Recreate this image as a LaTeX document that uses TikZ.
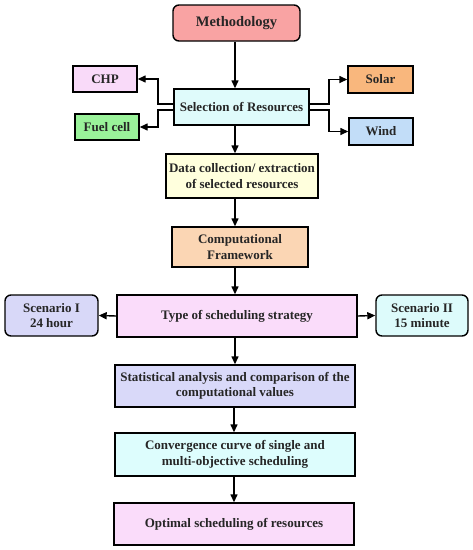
\documentclass[tikz,border=0pt]{standalone}
\usepackage{fontspec}
\setmainfont{Liberation Serif}
\usetikzlibrary{arrows.meta}
\definecolor{cmeth}{HTML}{F9A3A3}
\definecolor{cchp}{HTML}{F9DAF9}
\definecolor{cfuel}{HTML}{9AF29A}
\definecolor{csolar}{HTML}{F9B77D}
\definecolor{cwind}{HTML}{C2DDF8}
\definecolor{csel}{HTML}{DFFBFB}
\definecolor{cdata}{HTML}{FFFFDD}
\definecolor{ccomp}{HTML}{FBD6B4}
\definecolor{ctype}{HTML}{FADCFA}
\definecolor{cscI}{HTML}{D8D8F8}
\definecolor{cscII}{HTML}{DDFBFB}
\definecolor{cstat}{HTML}{D9D9F9}
\definecolor{cconv}{HTML}{DDFDFD}
\definecolor{copt}{HTML}{FADCFA}
\tikzset{
  box/.style={draw=black, line width=1.4pt, align=center, inner sep=0pt,
    font=\fontsize{13}{15.5}\selectfont\bfseries, text=black!85},
  rbox/.style={box, rounded corners=6pt},
  arr/.style={line width=1.4pt, -{Triangle[length=8pt,width=7pt]}},
  ln/.style={line width=1.4pt}
}
\begin{document}
\begin{tikzpicture}[x=1pt,y=-1pt]
\useasboundingbox (0,0) rectangle (473,550);
\node[rbox, fill=cmeth, minimum width=127pt, minimum height=36pt, font=\fontsize{14.5}{17}\selectfont\bfseries] (meth) at (236.5,23) {Methodology};
\node[box, fill=csel, minimum width=135pt, minimum height=36pt] (sel) at (241.5,107) {Selection of Resources};
\node[box, fill=cchp, minimum width=64pt, minimum height=26pt] (chp) at (105,79) {CHP};
\node[box, fill=cfuel, minimum width=64pt, minimum height=26pt] (fuel) at (107,127) {Fuel cell};
\node[box, fill=csolar, minimum width=65pt, minimum height=27pt] (solar) at (380.5,79.5) {Solar};
\node[box, fill=cwind, minimum width=64pt, minimum height=27pt] (wind) at (381,131.5) {Wind};
\node[box, fill=cdata, minimum width=152pt, minimum height=44pt] (data) at (242,176) {Data collection/ extraction\\of selected resources};
\node[box, fill=ccomp, minimum width=136pt, minimum height=40pt] (comp) at (240,247) {Computational\\Framework};
\node[box, fill=ctype, minimum width=240pt, minimum height=42pt] (type) at (237,316) {Type of scheduling strategy};
\node[rbox, fill=cscI, minimum width=93pt, minimum height=41pt] (scI) at (51.5,315.5) {Scenario I\\24 hour};
\node[rbox, fill=cscII, minimum width=92pt, minimum height=41pt] (scII) at (422,315.5) {Scenario II\\15 minute};
\node[box, fill=cstat, minimum width=240pt, minimum height=42pt] (stat) at (235,386) {Statistical analysis and comparison of the\\computational values};
\node[box, fill=cconv, minimum width=240pt, minimum height=43pt] (conv) at (235,454.5) {Convergence curve of single and\\multi-objective scheduling};
\node[box, fill=copt, minimum width=240pt, minimum height=42pt] (opt) at (234,524) {Optimal scheduling of resources};
\coordinate (ax) at (235,0);
\coordinate (lx) at (158,0);
\coordinate (rx) at (329,0);
\coordinate (yu) at (0,104);
\coordinate (yd) at (0,110);
\draw[arr] (meth.south -| ax) -- (sel.north -| ax);
\draw[arr] (sel.south -| ax) -- (data.north -| ax);
\draw[arr] (data.south -| ax) -- (comp.north -| ax);
\draw[arr] (comp.south -| ax) -- (type.north -| ax);
\draw[arr] (type.south -| ax) -- (stat.north -| ax);
\draw[arr] (stat.south -| 234,0) -- (conv.north -| 234,0);
\draw[arr] (conv.south -| 234,0) -- (opt.north -| 234,0);
\draw[arr] (sel.west |- yu) -- (lx |- yu) |- (chp.east);
\draw[arr] (sel.west |- yd) -- (lx |- yd) |- (fuel.east);
\draw[arr] (sel.east |- yu) -- (rx |- yu) |- (solar.west);
\draw[arr] (sel.east |- yd) -- (rx |- yd) |- (wind.west);
\draw[arr] (type.west) -- (scI.east);
\draw[arr] (type.east) -- (scII.west);
\end{tikzpicture}
\end{document}
